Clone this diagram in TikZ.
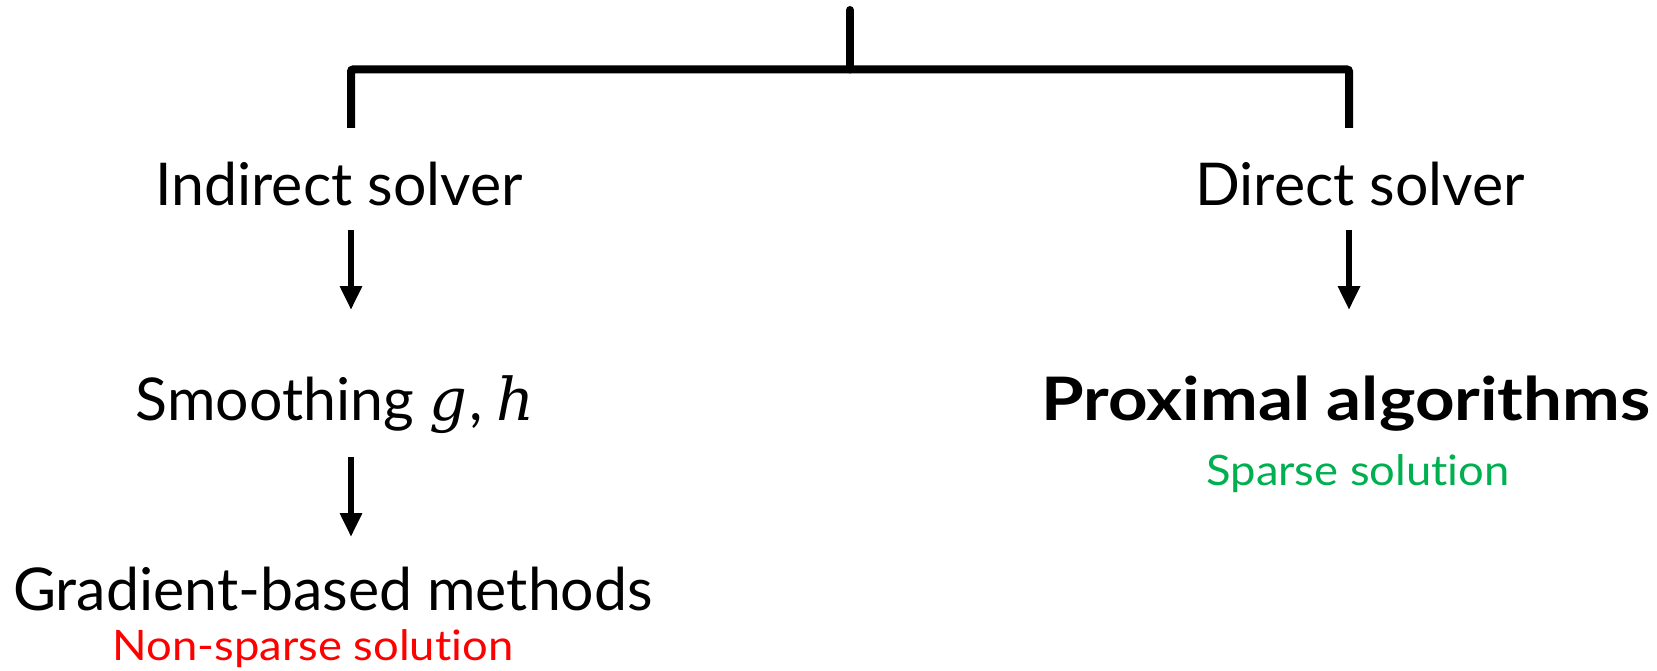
\documentclass[tikz,border=0pt]{standalone}
\usepackage{fontspec}
\setmainfont{Lato}[Ligatures=NoCommon]
\newfontfamily\widefont{Lato}[Ligatures=NoCommon,FakeStretch=1.08]
\newfontfamily\boldwide{Lato}[Ligatures=NoCommon,FakeStretch=1.15]
\newfontfamily\varfont{DejaVu Serif}
\newcommand{\var}[1]{{\varfont\itshape #1}}
\usetikzlibrary{arrows.meta}
\definecolor{nsred}{RGB}{255,0,0}
\definecolor{spgreen}{RGB}{0,176,80}
\begin{document}
\begin{tikzpicture}[x=1pt,y=-1pt,
  bigtext/.style={anchor=base,inner sep=0pt,font=\fontsize{59}{64}\selectfont},
  boldtext/.style={anchor=base,inner sep=0pt,font=\boldwide\fontsize{60}{64}\selectfont\bfseries},
  notetext/.style={anchor=base,inner sep=0pt,font=\widefont\fontsize{42}{46}\selectfont},
  treeline/.style={line width=8pt},
  flowarrow/.style={line width=6.5pt,-{Triangle[width=21pt,length=24pt]}}]
\useasboundingbox (0,0) rectangle (1657,671);

% bracket splitting into the two solver families
\coordinate (root) at (850,10);
\coordinate (split) at (850,69.5);
\coordinate (lend) at (351,128);
\coordinate (rend) at (1349,128);
\draw[treeline,line cap=round] (root) -- (split);
\draw[treeline,rounded corners=2pt] (lend) |- (split) -| (rend);

% left branch
\node[bigtext] (ind) at (339,206) {Indirect solver};
\node[bigtext] (smooth) at (335,420) {Smoothing \var{g}\hspace{0.05em},\hspace{0.22em}\var{h}};
\node[bigtext] (grad) at (333,610) {Gradient-based methods};
\node[notetext,text=nsred] (nonsparse) at (313,660) {Non-sparse solution};

% right branch
\node[bigtext] (dir) at (1360,206) {Direct solver};
\node[boldtext] (prox) at (1346,420) {Proximal algorithms};
\node[notetext,text=spgreen] (sparse) at (1358,485) {Sparse solution};

% arrows between the stages
\coordinate (a1s) at (351,230);
\coordinate (a1e) at (351,310);
\coordinate (a2s) at (351,457);
\coordinate (a2e) at (351,537);
\coordinate (a3s) at (1349,230);
\coordinate (a3e) at (1349,310);
\draw[flowarrow] (a1s) -- (a1e);
\draw[flowarrow] (a2s) -- (a2e);
\draw[flowarrow] (a3s) -- (a3e);
\end{tikzpicture}
\end{document}
